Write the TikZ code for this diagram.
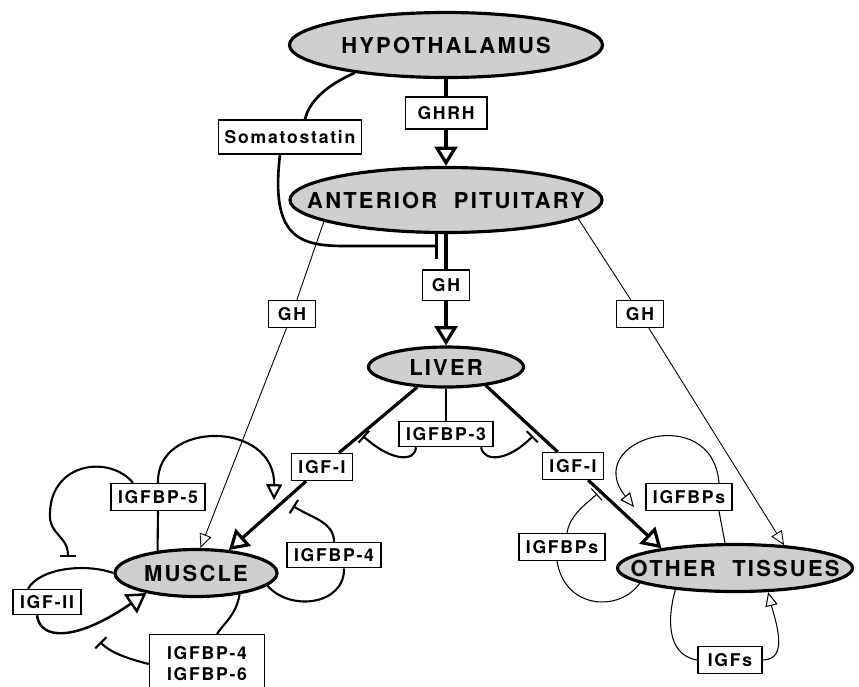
\documentclass[tikz,border=0pt]{standalone}
\usepackage{fontspec}
\newfontfamily\diagfont[LetterSpace=10]{TeX Gyre Heros}
\usetikzlibrary{arrows.meta, calc, shapes.geometric}

\newcommand{\organname}[1]{\makebox[0pt]{#1}}

\tikzset{
	organ/.style={ellipse, draw, line width=1.8pt, fill=gray!38, inner sep=0pt,
		font=\diagfont\bfseries\fontsize{12.5}{14}\selectfont},
	boxed/.style={draw, line width=0.8pt, fill=white, inner xsep=4pt, inner ysep=4pt,
		font=\diagfont\bfseries\fontsize{10}{12}\selectfont},
	tag/.style={boxed, text height=7.3pt, text depth=0pt},
	heavy/.style={line width=1.8pt},
	loopline/.style={line width=1.2pt},
	thinloop/.style={line width=0.6pt},
	fine/.style={line width=0.5pt},
	bigtri/.style={-{Triangle[open, length=11pt, width=13pt]}},
	midtri/.style={-{Triangle[open, length=9pt, width=9pt]}},
	smalltri/.style={-{Triangle[open, length=8pt, width=7pt]}},
	tbar/.style={-{Bar[width=#1]}},
	tbar/.default=9pt
}

\begin{document}
\begin{tikzpicture}[x=0.2mm, y=-0.2mm]

	\useasboundingbox (0,0) rectangle (859,686);

	\node[organ, minimum width=62.6mm, minimum height=13mm] (Hyp) at (446,45) {\organname{HYPOTHALAMUS}};
	\node[organ, minimum width=62.4mm, minimum height=13mm] (Pit) at (446,200) {\organname{ANTERIOR\ \ PITUITARY}};
	\node[organ, minimum width=31mm, minimum height=8mm] (Liv) at (446,367) {\organname{LIVER}};
	\node[organ, minimum width=32.4mm, minimum height=9.4mm] (Mus) at (196,573) {\organname{MUSCLE}};
	\node[organ, minimum width=47mm, minimum height=9.4mm] (Oth) at (735,568) {\organname{OTHER\ \ TISSUES}};

	\node[tag, inner xsep=7pt, inner ysep=5.5pt] (GHRH) at (446,113) {GHRH};
	\node[tag, inner xsep=3.5pt, inner ysep=6pt] (Som) at (290,137) {Somatostatin};
	\node[tag, inner xsep=5.5pt, inner ysep=5pt] (GHc) at (446,285) {GH};
	\node[tag, inner xsep=5.5pt] (GHl) at (292,314) {GH};
	\node[tag, inner xsep=5.5pt] (GHr) at (640,314) {GH};
	\node[tag, inner ysep=3.5pt] (BP3) at (446,434) {IGFBP-3};
	\node[tag] (IGFl) at (322,467) {IGF-I};
	\node[tag] (IGFr) at (573,466) {IGF-I};
	\node[tag] (BP5) at (158,497) {IGFBP-5};
	\node[tag, inner ysep=3.5pt] (BP4) at (334,555) {IGFBP-4};
	\node[tag, inner ysep=3.5pt] (IGF2) at (47,602) {IGF-II};
	\node[boxed, align=center, inner xsep=10pt, inner ysep=7pt] (BP46) at (207,664) {IGFBP-4\\IGFBP-6};
	\node[tag] (BPu) at (689,497) {IGFBPs};
	\node[tag] (BPl) at (562,547) {IGFBPs};
	\node[tag, inner xsep=5.5pt] (IGFs) at (730,660) {IGFs};

	\coordinate (Sst) at (438,246);
	\coordinate (T3l) at (363,436);
	\coordinate (T3r) at (533,436);
	\coordinate (T4) at (293,506);
	\coordinate (T5) at (68,557);
	\coordinate (T6) at (100,642);
	\coordinate (Tb) at (597,494);
	\coordinate (A5) at (274,500);
	\coordinate (Ab) at (634,507);

	\draw[heavy, bigtri] (Hyp) -- (GHRH) -- (Pit);
	\draw[heavy, bigtri] (Pit) -- (GHc) -- (Liv);
	\draw[loopline, line width=1.5pt] (Hyp.197) .. controls (320,88) and (308,106) .. ([xshift=3mm]Som.north);
	\draw[loopline, line width=1.5pt, tbar=15pt] ([xshift=-2mm]Som.south) .. controls (270,238) and (300,246) .. (345,246) -- (Sst);

	\draw[fine, smalltri] (Pit.190) -- (GHl) -- (Mus.80);
	\draw[fine, smalltri] (Pit.-8) -- (GHr) -- (Oth.25);

	\draw[heavy, bigtri] (Liv.215) -- (IGFl) -- (Mus.35);
	\draw[heavy, bigtri] (Liv.-25) -- (IGFr) -- (Oth.165);

	\draw[loopline] (Liv) -- (BP3);
	\draw[loopline, tbar] ([xshift=-6mm]BP3.south) .. controls (415,462) and (392,462) .. (T3l);
	\draw[loopline, tbar] ([xshift=7mm]BP3.south) .. controls (484,462) and (507,462) .. (T3r);

	% muscle
	\draw[loopline] (BP5.south) -- (Mus.150);
	\draw[loopline, midtri] (BP5.north) .. controls (156,420) and (275,420) .. (A5);
	\draw[loopline, tbar] ([xshift=-5mm]BP5.north) .. controls (110,455) and (52,462) .. (50,512) .. controls (48,535) and (68,535) .. (T5);
	\draw[loopline] (Mus.west) .. controls (85,563) and (40,568) .. ([xshift=-3.8mm]IGF2.north);
	\draw[line width=1.4pt, bigtri] ([xshift=-2mm]IGF2.south) .. controls (40,640) and (75,642) .. (Mus.202);
	\draw[loopline] (Mus.-26) .. controls (236,615) and (225,622) .. ([xshift=2mm]BP46.north);
	\draw[loopline, tbar] (BP46.west) .. controls (125,658) and (110,652) .. (T6);
	\draw[loopline] (Mus.-10) .. controls (290,612) and (345,605) .. ([xshift=2mm]BP4.south);
	\draw[loopline, tbar] (BP4.north) .. controls (334,522) and (312,518) .. (T4);

	% other tissues
	\draw[thinloop] ([xshift=-2mm]Oth.north) -- ([xshift=6mm]BPu.south);
	\draw[thinloop, smalltri] ([xshift=6mm]BPu.north) .. controls (712,400) and (580,440) .. (Ab);
	\draw[thinloop] (Oth.189) .. controls (620,612) and (565,610) .. ([xshift=-1mm]BPl.south);
	\draw[thinloop, tbar] ([xshift=1mm]BPl.north) .. controls (570,515) and (585,505) .. (Tb);
	\draw[thinloop] (Oth.200) .. controls (668,615) and (665,655) .. (IGFs.west);
	\draw[thinloop, smalltri] (IGFs.east) .. controls (790,660) and (775,620) .. (Oth.-36);

\end{tikzpicture}
\end{document}
